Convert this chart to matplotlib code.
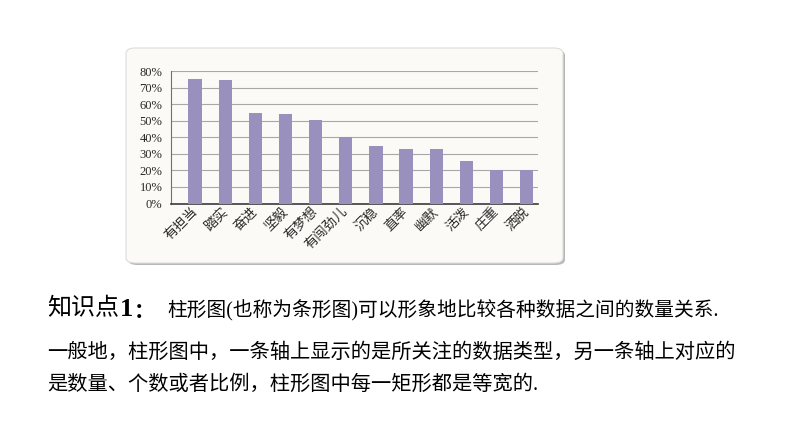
import matplotlib
matplotlib.use("Agg")
import matplotlib.pyplot as plt
from matplotlib.patches import FancyBboxPatch

categories = ["有担当", "踏实", "奋进", "坚毅", "有梦想", "有闯劲儿",
              "沉稳", "直率", "幽默", "活泼", "庄重", "洒脱"]
values = [75.2, 74.3, 54.6, 53.8, 50.4, 40.4, 34.9, 33.1, 33.1, 25.7, 20.3, 20.3]
yticks = [0, 10, 20, 30, 40, 50, 60, 70, 80]
ytick_labels = [f"{v}%" for v in yticks]

head_a = "知识点"
head_b = "1"
head_c = "："
line1_rest = "柱形图(也称为条形图)可以形象地比较各种数据之间的数量关系."
line2 = "一般地，柱形图中，一条轴上显示的是所关注的数据类型，另一条轴上对应的"
line3 = "是数量、个数或者比例，柱形图中每一矩形都是等宽的."

W, H = 794, 447
fig = plt.figure(figsize=(W / 100, H / 100), dpi=100)
fig.patch.set_facecolor("white")

def fx(px):
    return px / W

def fy(py):
    return 1 - py / H

# frame with shadow
x0, y0, x1, y1 = 126, 48, 563, 263
shadow = FancyBboxPatch((fx(x0 + 2), fy(y1 + 2)), fx(x1 - x0), (y1 - y0) / H,
                        boxstyle="round,pad=0,rounding_size=0.012",
                        transform=fig.transFigure, facecolor="#b8b8b8",
                        edgecolor="none", zorder=0)
fig.patches.append(shadow)
frame = FancyBboxPatch((fx(x0), fy(y1)), fx(x1 - x0), (y1 - y0) / H,
                       boxstyle="round,pad=0,rounding_size=0.012",
                       transform=fig.transFigure, facecolor="#fbfaf6",
                       edgecolor="#dcdcdc", linewidth=0.8, zorder=1)
fig.patches.append(frame)

ax_l, ax_r, ax_t, ax_b = 170.7, 538.3, 71, 203.5
ax = fig.add_axes([fx(ax_l), fy(ax_b), fx(ax_r - ax_l), (ax_b - ax_t) / H])
ax.set_facecolor("none")
ax.set_zorder(2)

x = list(range(len(categories)))
ax.bar(x, values, width=0.44, color="#9a90bd", zorder=3)
ax.set_xlim(-0.806, 11.385)
ax.set_ylim(0, 80)
ax.set_yticks(yticks)
ax.set_yticklabels(ytick_labels, fontfamily="Liberation Serif", fontsize=9, color="#2a2a2a")
ax.yaxis.grid(True, color="#a8a8a8", linewidth=0.8, zorder=1)
ax.set_axisbelow(True)
ax.tick_params(axis="y", length=0, pad=6)
ax.tick_params(axis="x", length=0, pad=4)
ax.set_xticks(x)
ax.set_xticklabels(categories, rotation=45, ha="right", va="center",
                   rotation_mode="anchor", fontfamily="Noto Sans CJK SC",
                   fontsize=9.6, color="#2a2a2a")
for s in ["top", "right"]:
    ax.spines[s].set_visible(False)
ax.spines["bottom"].set_color("#3a3a3a")
ax.spines["bottom"].set_linewidth(1.2)
ax.spines["left"].set_color("#707070")
ax.spines["left"].set_linewidth(0.8)

fam = ["Liberation Serif", "Noto Sans CJK SC"]
fig.text(fx(47), fy(309), head_a, family=fam, fontsize=17.3,
         ha="left", va="center", color="black")
fig.text(fx(120), fy(309), head_b, family="Liberation Serif", fontsize=19,
         fontweight="bold", ha="left", va="center", color="black")
fig.text(fx(134), fy(311), head_c, family="Noto Sans CJK SC", fontsize=15,
         fontweight="bold", ha="left", va="center", color="black")
fig.text(fx(167), fy(311), line1_rest, family=fam, fontsize=14.2,
         ha="left", va="center", color="black")
fig.text(fx(47), fy(353.5), line2, family=fam, fontsize=14.6,
         ha="left", va="center", color="black")
fig.text(fx(47), fy(385.5), line3, family=fam, fontsize=14.6,
         ha="left", va="center", color="black")

fig.savefig("out.png", dpi=100)
